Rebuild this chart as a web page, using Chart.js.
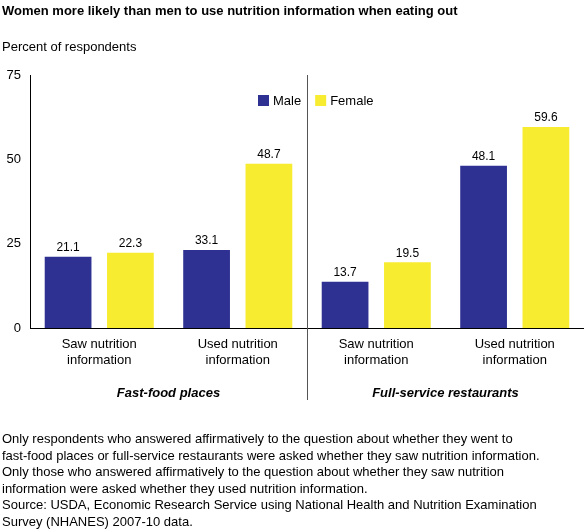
<!DOCTYPE html>
<html><head><meta charset="utf-8">
<script src="https://cdn.jsdelivr.net/npm/chart.js@4"></script>
<style>
body{margin:0;width:584px;height:532px;position:relative;font-family:"Liberation Sans",Arial,sans-serif;color:#000;background:#fff;overflow:hidden}
#c{position:absolute;left:0;top:0}
.t{position:absolute;left:2px;font-size:13px;white-space:nowrap}
</style></head><body>
<canvas id="c" width="584" height="532"></canvas>
<div class="t" style="top:3px;font-weight:bold">Women more likely than men to use nutrition information when eating out</div>
<div class="t" style="top:39px">Percent of respondents</div>
<div class="t" style="top:431px;line-height:16.6px">Only respondents who answered affirmatively to the question about whether they went to<br>fast-food places or full-service restaurants were asked whether they saw nutrition information.<br>Only those who answered affirmatively to the question about whether they saw nutrition<br>information were asked whether they used nutrition information.<br>Source: USDA, Economic Research Service using National Health and Nutrition Examination<br>Survey (NHANES) 2007-10 data.</div>
<script>
const categories=[["Saw nutrition","information"],["Used nutrition","information"],["Saw nutrition","information"],["Used nutrition","information"]];
const groups=["Fast-food places","Full-service restaurants"];
const seriesNames=["Male","Female"];
const maleValues=[21.1,23.1,13.7,48.1];
const femaleValues=[22.3,48.7,19.5,59.6];
const maleLabels=["21.1","33.1","13.7","48.1"];
const femaleLabels=["22.3","48.7","19.5","59.6"];
const yTicks=[0,25,50,75];
const colors=['#2E3192','#F7EC2F'];
const F='"Liberation Sans",Arial,sans-serif';
const deco={id:'deco',afterDatasetsDraw(ch){
 const c=ch.ctx,x=ch.scales.x,a=ch.chartArea;
 c.save();c.fillStyle='#000';c.textAlign='center';c.font='12px '+F;
 [maleLabels,femaleLabels].forEach((L,d)=>{ch.getDatasetMeta(d).data.forEach((b,i)=>{c.textBaseline='bottom';c.fillText(L[i],b.x,b.y-3);});});
 c.font='13px '+F;c.textBaseline='top';
 categories.forEach((l,i)=>{const px=x.getPixelForValue(i);l.forEach((s,k)=>c.fillText(s,px,a.bottom+10+k*16));});
 c.font='italic bold 13px '+F;
 c.fillText(groups[0],(x.getPixelForValue(0)+x.getPixelForValue(1))/2,a.bottom+59);
 c.fillText(groups[1],(x.getPixelForValue(2)+x.getPixelForValue(3))/2,a.bottom+59);
 const sx=(x.getPixelForValue(1)+x.getPixelForValue(2))/2;
 c.strokeStyle='#555';c.lineWidth=1;c.beginPath();c.moveTo(Math.round(sx)+0.5,a.top);c.lineTo(Math.round(sx)+0.5,a.bottom+72);c.stroke();
 // legend
 c.font='13px '+F;c.textAlign='left';c.textBaseline='middle';
 let lx=258;const ly=100;
 seriesNames.forEach((n,i)=>{c.fillStyle=colors[i];c.fillRect(lx,ly-5,11,11);c.fillStyle='#000';c.fillText(n,lx+15,ly+1);lx+=15+c.measureText(n).width+14;});
 c.restore();}};
new Chart(document.getElementById('c'),{type:'bar',
 data:{labels:categories.map(c=>c.join(' ')),datasets:[
  {label:seriesNames[0],data:maleValues,backgroundColor:colors[0]},
  {label:seriesNames[1],data:femaleValues,backgroundColor:colors[1]}]},
 options:{responsive:false,animation:false,
  layout:{padding:{top:75,bottom:204,left:0,right:0}},
  datasets:{bar:{barPercentage:0.75,categoryPercentage:0.9}},
  plugins:{tooltip:{enabled:false},legend:{display:false}},
  scales:{
   x:{grid:{display:false,drawTicks:false},border:{color:'#000'},ticks:{display:false}},
   y:{min:0,max:75,afterFit(s){s.width=30},afterBuildTicks(s){s.ticks=yTicks.map(v=>({value:v}))},
      grid:{display:false,drawOnChartArea:false,drawTicks:true,tickLength:6,tickColor:'#000'},
      border:{color:'#000'},ticks:{font:{size:13,family:F},color:'#000',padding:3}}}},
 plugins:[deco]});
</script></body></html>
